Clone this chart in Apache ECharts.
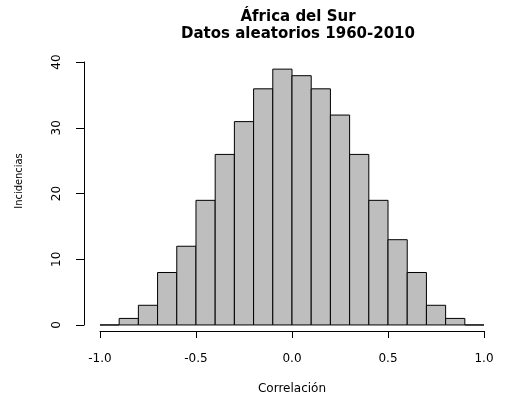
<!DOCTYPE html>
<html>
<head>
<meta charset="utf-8">
<script src="https://cdn.jsdelivr.net/npm/echarts@6/dist/echarts.min.js"></script>
<style>
  html, body { margin: 0; padding: 0; background: #fff; }
  #chart { width: 527px; height: 400px; }
</style>
</head>
<body>
<div id="chart"></div>
<script>
// histogram bins (left edges) and counts
const binStart = [-1.0, -0.9, -0.8, -0.7, -0.6, -0.5, -0.4, -0.3, -0.2, -0.1,
                  0.0, 0.1, 0.2, 0.3, 0.4, 0.5, 0.6, 0.7, 0.8, 0.9];
const binWidth = 0.1;
const counts = [0, 1, 3, 8, 12, 19, 26, 31, 36, 39,
                38, 36, 32, 26, 19, 13, 8, 3, 1, 0];
const xTicks = [-1.0, -0.5, 0.0, 0.5, 1.0];
const yTicks = [0, 10, 20, 30, 40];

const font = 'DejaVu Sans, Liberation Sans, sans-serif';
const narrow = 'Liberation Sans Narrow, DejaVu Sans Condensed, Liberation Sans, sans-serif';
const myChart = echarts.init(document.getElementById('chart'));

let data = binStart.map((s, i) => [s, s + binWidth, counts[i]]);

let option = {
  animation: false,
  title: {
    text: 'África del Sur\nDatos aleatorios 1960-2010',
    left: 293,
    textAlign: 'center',
    top: 4,
    textStyle: { fontFamily: font, fontSize: 15, fontWeight: 'bold', color: '#000', lineHeight: 17 }
  },
  grid: [
    // plot region (R style 4% padding)
    { left: 84.6, right: 27.6, top: 58.9, bottom: 64.8 },
    // x axis drawn only over the tick range
    { left: 100, width: 384, top: 58.9, bottom: 65 },
    // y axis drawn only over the tick range
    { left: 84, width: 100, top: 62, bottom: 75 }
  ],
  xAxis: [
    { gridIndex: 0, type: 'value', min: -1.08, max: 1.08, show: false },
    {
      gridIndex: 1, type: 'value', min: xTicks[0], max: xTicks[xTicks.length - 1], interval: 0.5,
      axisLine: { show: true, lineStyle: { color: '#000', width: 1 } },
      axisTick: { show: true, length: 7, lineStyle: { color: '#000' } },
      splitLine: { show: false },
      axisLabel: {
        fontFamily: font, fontSize: 12, color: '#000', margin: 22,
        formatter: v => v.toFixed(1),
        showMinLabel: true, showMaxLabel: true
      },
      name: 'Correlación',
      nameLocation: 'middle',
      nameGap: 52,
      nameTextStyle: { fontFamily: font, fontSize: 12, color: '#000' }
    },
    { gridIndex: 2, type: 'value', show: false }
  ],
  yAxis: [
    { gridIndex: 0, type: 'value', min: -1.56, max: 40.56, show: false },
    { gridIndex: 1, type: 'value', show: false },
    {
      gridIndex: 2, type: 'value', min: yTicks[0], max: yTicks[yTicks.length - 1], interval: 10,
      axisLine: { show: true, lineStyle: { color: '#000', width: 1 } },
      axisTick: { show: true, length: 8, lineStyle: { color: '#000' } },
      splitLine: { show: false },
      axisLabel: {
        fontFamily: font, fontSize: 12, color: '#000', margin: 21,
        rotate: 90
      }
    }
  ],
  graphic: [{
    type: 'text',
    x: 19,
    y: 181,
    rotation: Math.PI / 2,
    style: {
      text: 'Incidencias',
      font: '11px ' + narrow,
      fill: '#000',
      align: 'center',
      verticalAlign: 'middle'
    }
  }],
  series: [{
    type: 'custom',
    xAxisIndex: 0,
    yAxisIndex: 0,
    data: data,
    renderItem: function (params, api) {
      let p0 = api.coord([api.value(0), 0]);
      let p1 = api.coord([api.value(1), api.value(2)]);
      return {
        type: 'rect',
        shape: { x: p0[0], y: p1[1], width: p1[0] - p0[0], height: p0[1] - p1[1] },
        style: { fill: '#bebebe', stroke: '#000', lineWidth: 1 }
      };
    }
  }]
};
myChart.setOption(option);
</script>
</body>
</html>
